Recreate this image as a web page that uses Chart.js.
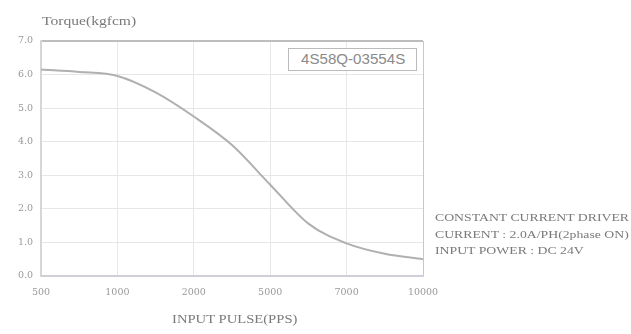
<!DOCTYPE html>
<html>
<head>
<meta charset="utf-8">
<script src="https://cdn.jsdelivr.net/npm/chart.js@4/dist/chart.umd.min.js"></script>
<style>
  html,body{margin:0;padding:0;background:#fff;}
  #wrap{position:relative;width:631px;height:334px;}
  canvas{position:absolute;left:0;top:0;}
  .t{position:absolute;font-family:"Liberation Serif","DejaVu Serif",serif;color:#7a7a7a;white-space:nowrap;transform-origin:0 0;}
  #ytitle{left:42px;top:14px;font-size:12px;transform:scaleX(1.3);}
  #xtitle{left:172px;top:312px;font-size:12px;transform:scaleX(1.22);}
  #legend{position:absolute;left:288px;top:48px;width:129px;height:23px;border:1px solid #bbb;box-sizing:border-box;
    background:#fff;}
  #legend span{position:absolute;left:12px;top:2px;font-family:"Liberation Sans",Arial,sans-serif;font-size:14px;color:#8a8a8a;
    white-space:nowrap;transform-origin:0 0;transform:scaleX(1.08);line-height:17px;}
  #notes{left:435px;top:209px;font-size:11px;line-height:16.5px;transform:scaleX(1.25);}
</style>
</head>
<body>
<div id="wrap">
  <canvas id="c" width="631" height="334"></canvas>
  <div class="t" id="ytitle">Torque(kgfcm)</div>
  <div class="t" id="xtitle">INPUT PULSE(PPS)</div>
  <div id="legend"><span>4S58Q-03554S</span></div>
  <div class="t" id="notes">CONSTANT CURRENT DRIVER<br>CURRENT : 2.0A/PH(2phase ON)<br>INPUT POWER : DC 24V</div>
</div>
<script>
// tick labels of the (evenly spaced) pulse axis
const pulseLabels = ["500", "1000", "2000", "5000", "7000", "10000"];
// position along the pulse axis (in tick steps) and torque
const pulsePos = [0, 0.5, 1, 1.5, 2, 2.5, 3, 3.5, 4, 4.5, 5];
const torque   = [6.15, 6.08, 5.96, 5.47, 4.75, 3.90, 2.72, 1.56, 0.97, 0.66, 0.50];
const torqueTicks = [0, 1, 2, 3, 4, 5, 6, 7];

const pts = pulsePos.map((p, i) => ({x: p, y: torque[i]}));
const tickFont = {family: "'DejaVu Serif', serif", size: 9.5};

new Chart(document.getElementById('c'), {
  type: 'line',
  data: {datasets: [{
    data: pts,
    borderColor: '#b0b0b0',
    borderWidth: 2,
    pointRadius: 0,
    cubicInterpolationMode: 'monotone',
    fill: false
  }]},
  options: {
    responsive: false,
    animation: false,
    devicePixelRatio: 1,
    layout: {padding: {left: 0, right: 208, top: 41, bottom: 0}},
    plugins: {legend: {display: false}, tooltip: {enabled: false}},
    scales: {
      x: {
        type: 'linear', min: 0, max: pulseLabels.length - 1,
        afterBuildTicks: s => { s.ticks = pulseLabels.map((_, i) => ({value: i})); },
        afterFit: s => { s.height = 58; },
        ticks: {callback: v => pulseLabels[v], color: '#999', font: tickFont, padding: 11, maxRotation: 0, autoSkip: false},
        grid: {color: ctx => (ctx.tick && ctx.tick.value === 5) ? '#c8c8c8' : '#e8e8e8', drawTicks: false, lineWidth: 1},
        border: {display: true, color: '#cfcfd8', width: 2}
      },
      y: {
        min: 0, max: 7,
        afterBuildTicks: s => { s.ticks = torqueTicks.map(v => ({value: v})); },
        afterFit: s => { s.width = 41; },
        ticks: {callback: v => v.toFixed(1), color: '#999', font: tickFont, padding: 8},
        grid: {color: ctx => (ctx.tick && ctx.tick.value === 7) ? '#bdbdbd' : '#e6e6e6', drawTicks: false, lineWidth: ctx => (ctx.tick && ctx.tick.value === 7) ? 2 : 1},
        border: {display: true, color: '#d6d6d6', width: 2}
      }
    }
  }
});
</script>
</body>
</html>
